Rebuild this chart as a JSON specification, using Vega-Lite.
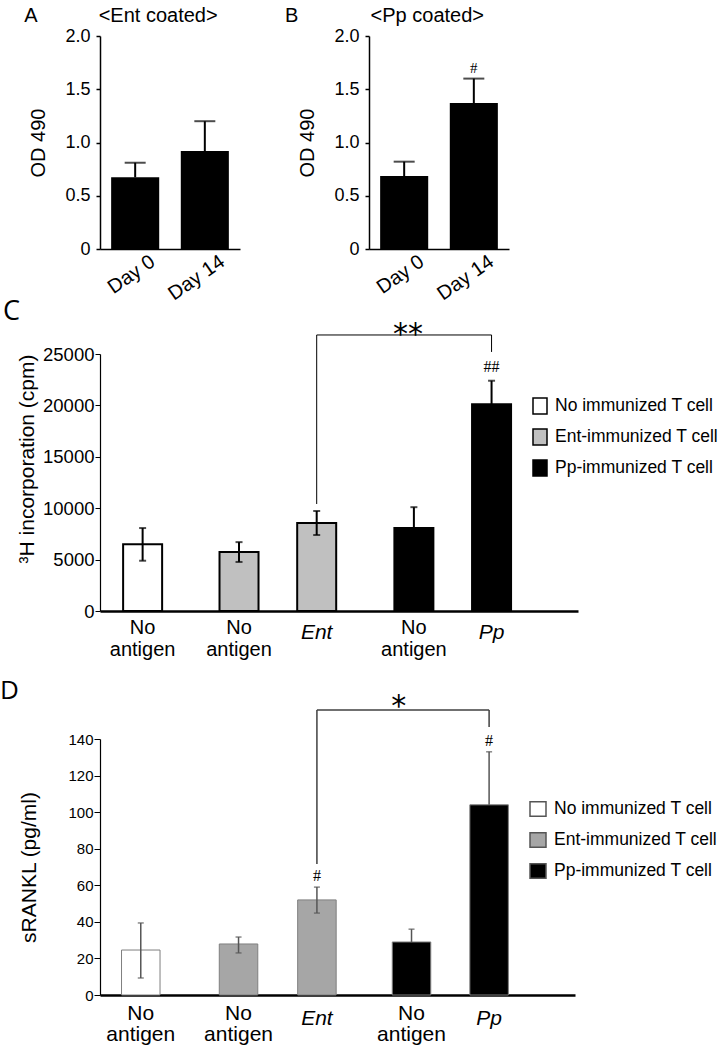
{
  "$schema": "https://vega.github.io/schema/vega-lite/v6.json",
  "background": "white",
  "padding": {"left": 0, "top": 6, "right": 0, "bottom": 0},
  "config": {
    "font": "Liberation Sans",
    "view": {"stroke": null},
    "axis": {"grid": false, "labelColor": "black", "titleColor": "black", "domainColor": "black", "tickColor": "black", "titleFontWeight": "normal", "labelFont": "Liberation Sans", "titleFont": "Liberation Sans", "labelOverlap": false},
    "title": {"fontWeight": "normal", "color": "black", "font": "Liberation Sans"},
    "legend": {"labelColor": "black", "labelFont": "Liberation Sans"}
  },
  "spacing": -6,
  "vconcat": [
    {
      "spacing": 45,
      "hconcat": [
        {
          "width": 140,
          "height": 213,
          "title": {"text": "\u200b\u00a0\u00a0\u00a0\u00a0A\u00a0\u00a0\u00a0\u00a0\u00a0\u00a0\u00a0\u00a0\u00a0\u00a0\u00a0<Ent coated>", "anchor": "start", "frame": "group", "dx": -98, "offset": -15, "baseline": "alphabetic", "fontSize": 20},
          "data": {"values": [
            {"day": "Day 0", "value": 0.673, "upper": 0.81, "sig": ""},
            {"day": "Day 14", "value": 0.92, "upper": 1.2, "sig": ""}
          ]},
          "layer": [
            {
              "mark": {"type": "bar", "color": "black"},
              "encoding": {
                "x": {"field": "day", "type": "nominal", "sort": null, "scale": {"paddingInner": 0.31, "paddingOuter": 0.16},
                  "axis": {"title": null, "labelAngle": -35, "labelAlign": "right", "labelBaseline": "top", "labelFontSize": 20, "labelOffset": 12, "labelPadding": 2, "ticks": false, "domainWidth": 1.5}},
                "y": {"field": "value", "type": "quantitative", "scale": {"domain": [0, 2]},
                  "axis": {"title": "OD 490", "values": [0, 0.5, 1, 1.5, 2], "labelExpr": "datum.value == 0 ? '0' : format(datum.value, '.1f')", "labelFontSize": 18, "tickSize": 4, "labelPadding": 6, "titleFontSize": 20, "titlePadding": 16, "domainWidth": 1.5, "tickWidth": 1.5}}
              }
            },
            {"mark": {"type": "rule", "strokeWidth": 2, "color": "black"}, "encoding": {"x": {"field": "day", "type": "nominal"}, "y": {"field": "value", "type": "quantitative"}, "y2": {"field": "upper"}}},
            {"mark": {"type": "tick", "orient": "horizontal", "size": 21, "thickness": 2, "color": "black"}, "encoding": {"x": {"field": "day", "type": "nominal"}, "y": {"field": "upper", "type": "quantitative"}}}
          ]
        },
        {
          "width": 140,
          "height": 213,
          "title": {"text": "B\u00a0\u00a0\u00a0\u00a0\u00a0\u00a0\u00a0\u00a0\u00a0\u00a0\u00a0\u00a0\u00a0<Pp coated>", "anchor": "start", "frame": "group", "dx": -84, "offset": -15, "baseline": "alphabetic", "fontSize": 20},
          "data": {"values": [
            {"day": "Day 0", "value": 0.685, "upper": 0.82, "sig": ""},
            {"day": "Day 14", "value": 1.37, "upper": 1.6, "sig": "#"}
          ]},
          "layer": [
            {
              "mark": {"type": "bar", "color": "black"},
              "encoding": {
                "x": {"field": "day", "type": "nominal", "sort": null, "scale": {"paddingInner": 0.31, "paddingOuter": 0.16},
                  "axis": {"title": null, "labelAngle": -35, "labelAlign": "right", "labelBaseline": "top", "labelFontSize": 20, "labelOffset": 12, "labelPadding": 2, "ticks": false, "domainWidth": 1.5}},
                "y": {"field": "value", "type": "quantitative", "scale": {"domain": [0, 2]},
                  "axis": {"title": "OD 490", "values": [0, 0.5, 1, 1.5, 2], "labelExpr": "datum.value == 0 ? '0' : format(datum.value, '.1f')", "labelFontSize": 18, "tickSize": 4, "labelPadding": 6, "titleFontSize": 20, "titlePadding": 16, "domainWidth": 1.5, "tickWidth": 1.5}}
              }
            },
            {"mark": {"type": "rule", "strokeWidth": 2, "color": "black"}, "encoding": {"x": {"field": "day", "type": "nominal"}, "y": {"field": "value", "type": "quantitative"}, "y2": {"field": "upper"}}},
            {"mark": {"type": "tick", "orient": "horizontal", "size": 21, "thickness": 2, "color": "black"}, "encoding": {"x": {"field": "day", "type": "nominal"}, "y": {"field": "upper", "type": "quantitative"}}},
            {"transform": [{"filter": "datum.sig != ''"}], "mark": {"type": "text", "font": "Liberation Serif", "fontSize": 15, "baseline": "middle", "dy": -11, "color": "black"}, "encoding": {"x": {"field": "day", "type": "nominal"}, "y": {"field": "upper", "type": "quantitative"}, "text": {"field": "sig"}}}
          ]
        }
      ]
    },
    {
      "spacing": 17,
      "resolve": {"scale": {"color": "independent"}, "legend": {"color": "independent"}},
      "vconcat": [
        {
          "width": 478,
          "height": 257,
          "title": {"text": "C", "anchor": "start", "frame": "group", "dx": -97, "offset": -27, "baseline": "alphabetic", "fontSize": 27, "font": "Open Sans"},
          "data": {"values": [
            {"pos": 1.07, "group": "No immunized T cell", "label": "No antigen", "italic": false, "value": 6500, "lo": 4890, "hi": 8070, "sig": ""},
            {"pos": 3.49, "group": "Ent-immunized T cell", "label": "No antigen", "italic": false, "value": 5740, "lo": 4770, "hi": 6700, "sig": ""},
            {"pos": 5.44, "group": "Ent-immunized T cell", "label": "Ent", "italic": true, "value": 8560, "lo": 7390, "hi": 9730, "sig": ""},
            {"pos": 7.88, "group": "Pp-immunized T cell", "label": "No antigen", "italic": false, "value": 8070, "lo": 8070, "hi": 10100, "sig": ""},
            {"pos": 9.83, "group": "Pp-immunized T cell", "label": "Pp", "italic": true, "value": 20100, "lo": 20100, "hi": 22400, "sig": "##"}
          ]},
          "layer": [
            {
              "mark": {"type": "bar", "orient": "vertical", "size": 39, "stroke": "black", "strokeWidth": 2},
              "encoding": {
                "x": {"field": "pos", "type": "quantitative", "scale": {"domain": [0, 12], "nice": false, "padding": 0, "zero": false}, "axis": {"title": null, "labels": false, "ticks": false, "domainWidth": 2.5}},
                "y": {"field": "value", "type": "quantitative", "scale": {"domain": [0, 25000], "nice": false},
                  "axis": {"title": "³H incorporation (cpm)", "titleAnchor": "end", "values": [0, 5000, 10000, 15000, 20000, 25000], "format": "d", "labelFontSize": 18.5, "tickSize": 5, "labelPadding": 1, "titleFontSize": 21, "titlePadding": 5, "domainWidth": 1.2, "labelOverlap": false}},
                "color": {"field": "group", "type": "nominal",
                  "scale": {"domain": ["No immunized T cell", "Ent-immunized T cell", "Pp-immunized T cell"], "range": ["#ffffff", "#c0c0c0", "#000000"]},
                  "legend": {"orient": "none", "legendX": 431, "legendY": 43, "title": null, "symbolType": "M-0.875,-1H0.875V1H-0.875Z", "symbolSize": 256, "symbolStrokeColor": "black", "symbolStrokeWidth": 1.5, "labelFontSize": 17.5, "labelLimit": 400, "labelOffset": 6, "rowPadding": 9, "padding": 0}}
              }
            },
            {"mark": {"type": "rule", "strokeWidth": 2, "color": "black"}, "encoding": {"x": {"field": "pos", "type": "quantitative"}, "y": {"field": "lo", "type": "quantitative"}, "y2": {"field": "hi"}}},
            {"mark": {"type": "tick", "orient": "horizontal", "size": 7, "thickness": 2, "color": "black"}, "encoding": {"x": {"field": "pos", "type": "quantitative"}, "y": {"field": "hi", "type": "quantitative"}}},
            {"transform": [{"filter": "datum.lo < datum.value"}], "mark": {"type": "tick", "orient": "horizontal", "size": 7, "thickness": 2, "color": "black"}, "encoding": {"x": {"field": "pos", "type": "quantitative"}, "y": {"field": "lo", "type": "quantitative"}}},
            {"transform": [{"filter": "!datum.italic"}], "mark": {"type": "text", "lineBreak": " ", "baseline": "alphabetic", "dy": 23, "fontSize": 20, "lineHeight": 22, "color": "black"}, "encoding": {"x": {"field": "pos", "type": "quantitative"}, "y": {"datum": 0}, "text": {"field": "label"}}},
            {"transform": [{"filter": "datum.italic"}], "mark": {"type": "text", "fontStyle": "italic", "baseline": "alphabetic", "dy": 28, "fontSize": 21, "color": "black"}, "encoding": {"x": {"field": "pos", "type": "quantitative"}, "y": {"datum": 0}, "text": {"field": "label"}}},
            {"transform": [{"filter": "datum.sig != ''"}], "mark": {"type": "text", "font": "Liberation Serif", "fontSize": 16, "baseline": "middle", "dy": -14, "color": "black"}, "encoding": {"x": {"field": "pos", "type": "quantitative"}, "y": {"field": "hi", "type": "quantitative"}, "text": {"field": "sig"}}},
            {"data": {"values": [{"x": 5.44, "y": 10410, "y2": 26850}, {"x": 9.83, "y": 25200, "y2": 26850}]}, "mark": {"type": "rule", "strokeWidth": 1, "color": "black"}, "encoding": {"x": {"field": "x", "type": "quantitative"}, "y": {"field": "y", "type": "quantitative"}, "y2": {"field": "y2"}}},
            {"data": {"values": [{"x": 5.44, "x2": 9.83, "y": 26850}]}, "mark": {"type": "rule", "strokeWidth": 1, "color": "black"}, "encoding": {"x": {"field": "x", "type": "quantitative"}, "x2": {"field": "x2"}, "y": {"field": "y", "type": "quantitative"}}},
            {"data": {"values": [{"x": 7.73, "y": 25925, "text": "**"}]}, "mark": {"type": "text", "font": "DejaVu Sans", "fontSize": 30, "baseline": "alphabetic", "color": "black"}, "encoding": {"x": {"field": "x", "type": "quantitative"}, "y": {"field": "y", "type": "quantitative"}, "text": {"field": "text"}}}
          ]
        },
        {
          "width": 475,
          "height": 256,
          "title": {"text": "D", "anchor": "start", "frame": "group", "dx": -100, "offset": -33, "baseline": "alphabetic", "fontSize": 26, "font": "Open Sans"},
          "data": {"values": [
            {"pos": 1.03, "group": "No immunized T cell", "label": "No antigen", "italic": false, "value": 24.6, "lo": 9.3, "hi": 39.4, "sig": ""},
            {"pos": 3.5, "group": "Ent-immunized T cell", "label": "No antigen", "italic": false, "value": 27.9, "lo": 23, "hi": 31.7, "sig": ""},
            {"pos": 5.48, "group": "Ent-immunized T cell", "label": "Ent", "italic": true, "value": 52, "lo": 44.8, "hi": 59, "sig": "#"},
            {"pos": 7.87, "group": "Pp-immunized T cell", "label": "No antigen", "italic": false, "value": 29, "lo": 29, "hi": 36, "sig": ""},
            {"pos": 9.83, "group": "Pp-immunized T cell", "label": "Pp", "italic": true, "value": 104, "lo": 104, "hi": 133, "sig": "#"}
          ]},
          "layer": [
            {
              "mark": {"type": "bar", "orient": "vertical", "size": 38.5, "stroke": "#7f7f7f", "strokeWidth": 1},
              "encoding": {
                "x": {"field": "pos", "type": "quantitative", "scale": {"domain": [0, 12], "nice": false, "padding": 0, "zero": false}, "axis": {"title": null, "labels": false, "ticks": false, "domainWidth": 2.5}},
                "y": {"field": "value", "type": "quantitative", "scale": {"domain": [0, 140], "nice": false},
                  "axis": {"title": "sRANKL (pg/ml)", "values": [0, 20, 40, 60, 80, 100, 120, 140], "format": "d", "labelFontSize": 15, "tickSize": 6, "labelPadding": 1, "titleFontSize": 21, "titlePadding": 28, "domainWidth": 1.2, "labelOverlap": false, "labelFlush": false, "labelBound": false, "tickCount": 8}},
                "color": {"field": "group", "type": "nominal",
                  "scale": {"domain": ["No immunized T cell", "Ent-immunized T cell", "Pp-immunized T cell"], "range": ["#ffffff", "#a6a6a6", "#000000"]},
                  "legend": {"orient": "none", "legendX": 429, "legendY": 61, "title": null, "symbolType": "M-1,-0.9H1V0.9H-1Z", "symbolSize": 256, "symbolStrokeColor": "#555555", "symbolStrokeWidth": 1.5, "labelFontSize": 17.5, "labelLimit": 400, "labelOffset": 7, "rowPadding": 9, "padding": 0}}
              }
            },
            {"mark": {"type": "rule", "strokeWidth": 1.5, "color": "#555555"}, "encoding": {"x": {"field": "pos", "type": "quantitative"}, "y": {"field": "lo", "type": "quantitative"}, "y2": {"field": "hi"}}},
            {"mark": {"type": "tick", "orient": "horizontal", "size": 6, "thickness": 1.5, "color": "#555555"}, "encoding": {"x": {"field": "pos", "type": "quantitative"}, "y": {"field": "hi", "type": "quantitative"}}},
            {"transform": [{"filter": "datum.lo < datum.value"}], "mark": {"type": "tick", "orient": "horizontal", "size": 6, "thickness": 1.5, "color": "#555555"}, "encoding": {"x": {"field": "pos", "type": "quantitative"}, "y": {"field": "lo", "type": "quantitative"}}},
            {"transform": [{"filter": "!datum.italic"}], "mark": {"type": "text", "lineBreak": " ", "baseline": "alphabetic", "dy": 25, "fontSize": 21, "lineHeight": 21, "color": "black"}, "encoding": {"x": {"field": "pos", "type": "quantitative"}, "y": {"datum": 0}, "text": {"field": "label"}}},
            {"transform": [{"filter": "datum.italic"}], "mark": {"type": "text", "fontStyle": "italic", "baseline": "alphabetic", "dy": 30, "fontSize": 21, "color": "black"}, "encoding": {"x": {"field": "pos", "type": "quantitative"}, "y": {"datum": 0}, "text": {"field": "label"}}},
            {"transform": [{"filter": "datum.sig != ''"}], "mark": {"type": "text", "font": "Liberation Serif", "fontSize": 16, "baseline": "middle", "dy": -11, "color": "black"}, "encoding": {"x": {"field": "pos", "type": "quantitative"}, "y": {"field": "hi", "type": "quantitative"}, "text": {"field": "sig"}}},
            {"data": {"values": [{"x": 5.48, "y": 71.6, "y2": 155.8}, {"x": 9.83, "y": 146.5, "y2": 155.8}]}, "mark": {"type": "rule", "strokeWidth": 1.5, "color": "#404040"}, "encoding": {"x": {"field": "x", "type": "quantitative"}, "y": {"field": "y", "type": "quantitative"}, "y2": {"field": "y2"}}},
            {"data": {"values": [{"x": 5.48, "x2": 9.83, "y": 155.8}]}, "mark": {"type": "rule", "strokeWidth": 1.5, "color": "#404040"}, "encoding": {"x": {"field": "x", "type": "quantitative"}, "x2": {"field": "x2"}, "y": {"field": "y", "type": "quantitative"}}},
            {"data": {"values": [{"x": 7.55, "y": 152.8, "text": "*"}]}, "mark": {"type": "text", "font": "DejaVu Sans", "fontSize": 30, "baseline": "alphabetic", "color": "black"}, "encoding": {"x": {"field": "x", "type": "quantitative"}, "y": {"field": "y", "type": "quantitative"}, "text": {"field": "text"}}}
          ]
        }
      ]
    }
  ]
}
